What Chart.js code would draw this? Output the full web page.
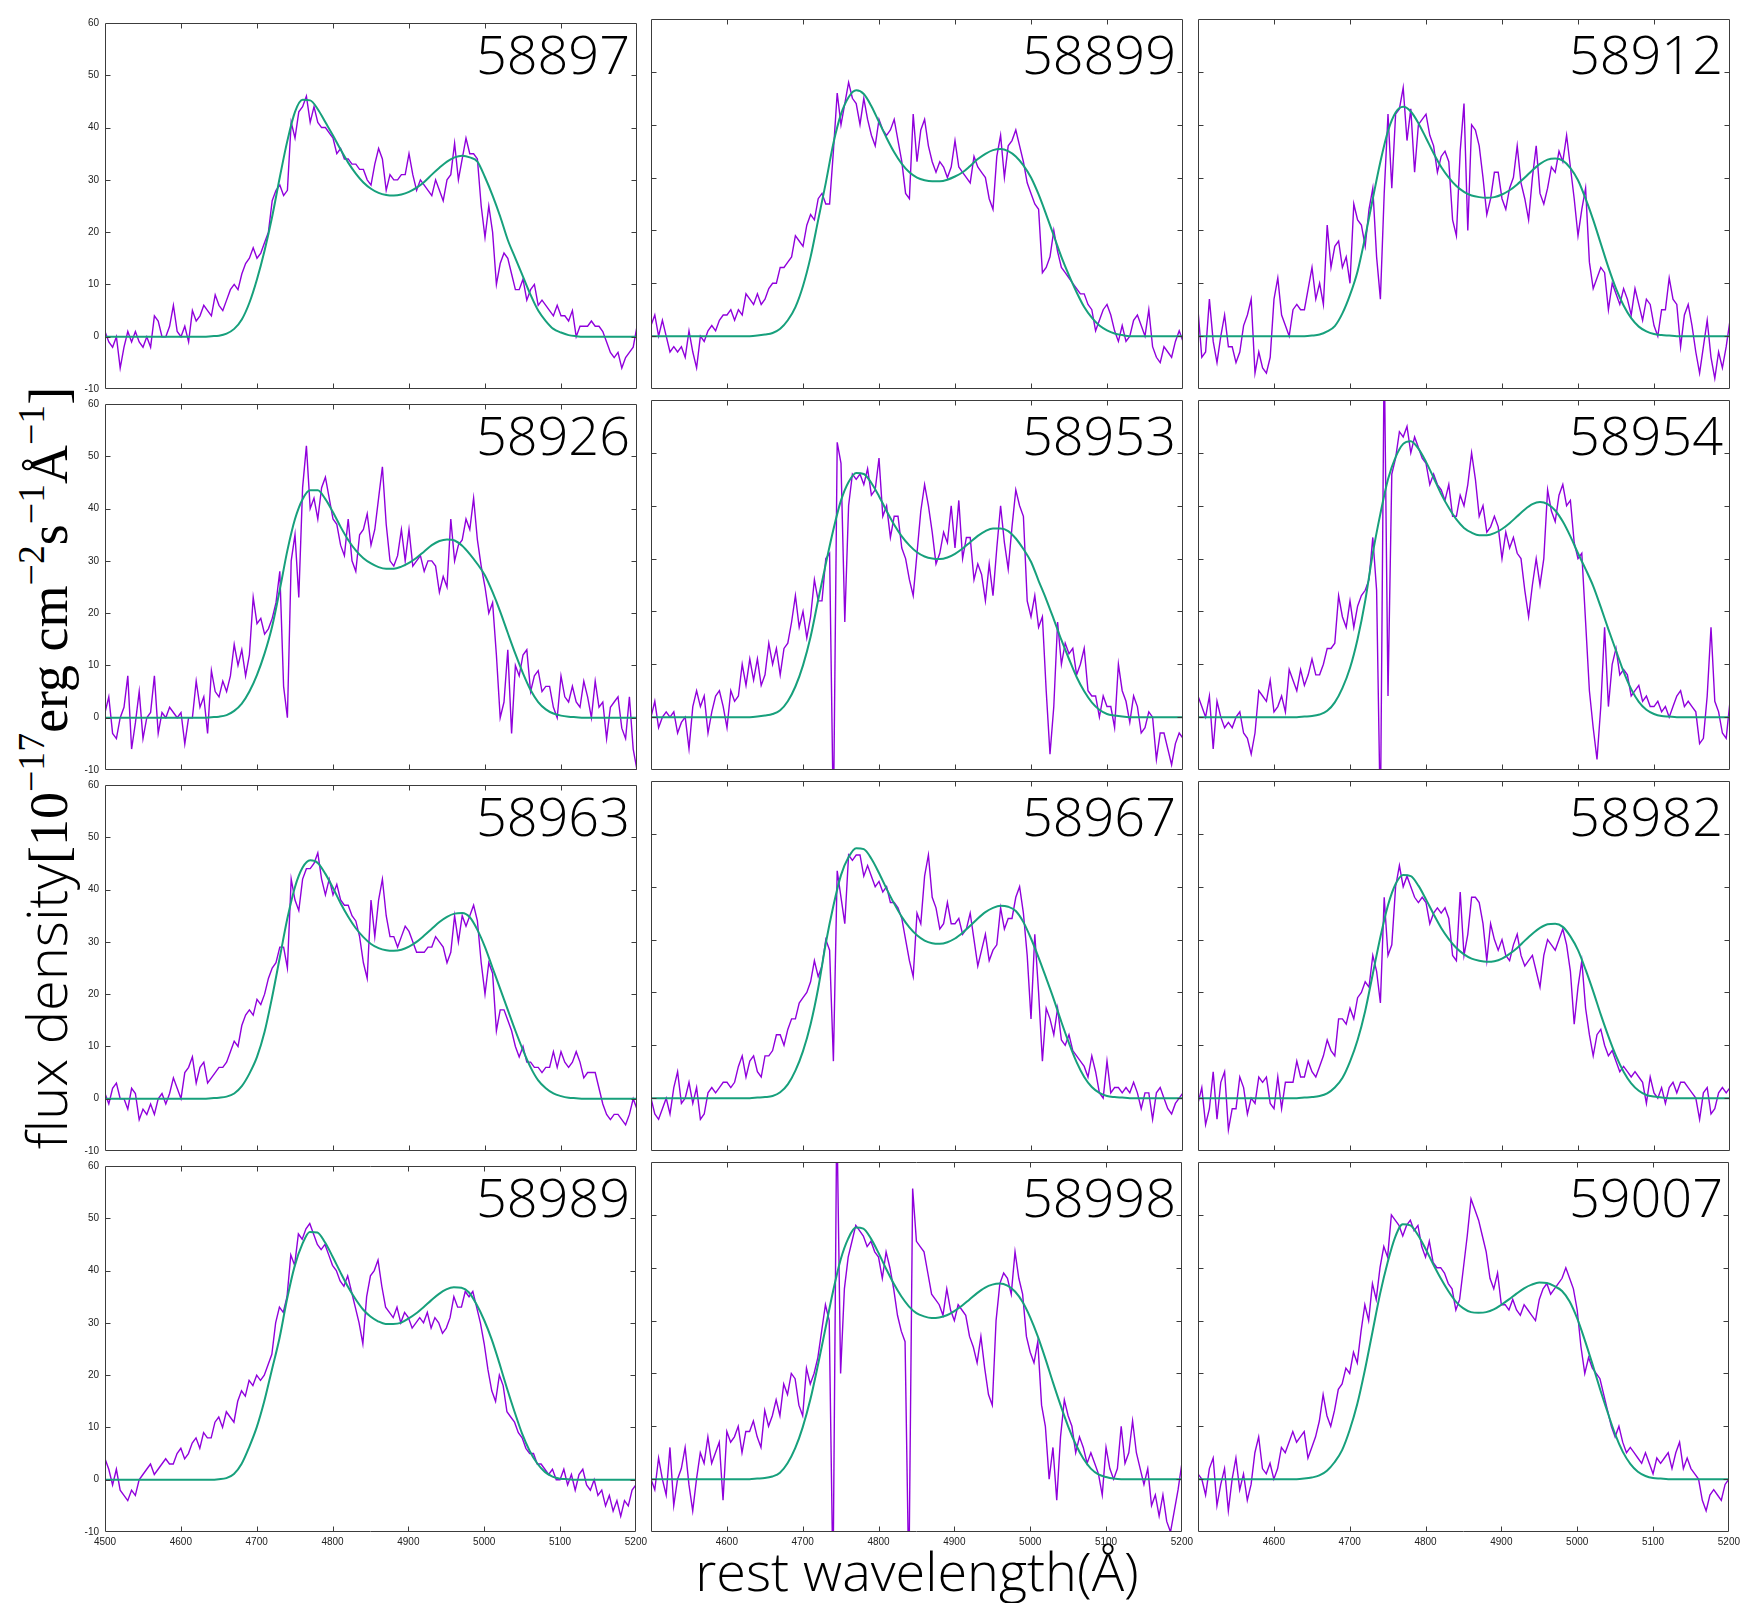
<!DOCTYPE html>
<html>
<head>
<meta charset="utf-8">
<title>Spettri H-beta</title>
<script src="https://cdn.jsdelivr.net/npm/chart.js"></script>
<style>
    body { margin: 0; background: #fff; }
    #page { position: relative; width: 1742px; height: 1603px; overflow: hidden; background: #fff; }
    canvas.panel { position: absolute; }
    .epoch {
        position: absolute; width: 300px; text-align: right;
        font-family: 'Open Sans', sans-serif; font-weight: 300; font-size: 54px; line-height: 54px; color: #000;
    }
    #xtitle {
        position: absolute; left: 517px; top: 1543px; width: 800px; text-align: center;
        font-family: 'Open Sans', sans-serif; font-weight: 300; font-size: 54px; line-height: 54px; color: #000;
    }
    #ytitle {
        position: absolute; left: -405px; top: 740px; width: 900px; height: 56px;
        text-align: center; white-space: nowrap; transform: rotate(-90deg); transform-origin: 50% 50%;
        font-family: 'Liberation Serif', serif; font-size: 54px; line-height: 56px; color: #000;
    }
    #ytitle .sans { font-family: 'Open Sans', sans-serif; font-weight: 300; font-size: 56px; }
    #ytitle sup { font-size: 0.7em; line-height: 0; vertical-align: 0; position: relative; top: -0.6em; }
</style>
</head>
<body>
<div id="page">
    <div id="ytitle"><span class="sans">flux density</span>[10<sup>−17</sup>erg cm<sup>−2</sup>s<sup>−1</sup>Å<sup>−1</sup>]</div>
    <div id="xtitle">rest wavelength(Å)</div>
</div>

<script>
    // lunghezze d'onda (Å) del campionamento dello spettro e del fit
    const wave = [
        4500, 4505, 4510, 4515, 4520, 4525, 4530, 4535, 4540, 4545, 4550, 4555, 4560, 4565, 4570, 4575, 4580, 4585, 4590, 4595,
        4600, 4605, 4610, 4615, 4620, 4625, 4630, 4635, 4640, 4645, 4650, 4655, 4660, 4665, 4670, 4675, 4680, 4685, 4690, 4695,
        4700, 4705, 4710, 4715, 4720, 4725, 4730, 4735, 4740, 4745, 4750, 4755, 4760, 4765, 4770, 4775, 4780, 4785, 4790, 4795,
        4800, 4805, 4810, 4815, 4820, 4825, 4830, 4835, 4840, 4845, 4850, 4855, 4860, 4865, 4870, 4875, 4880, 4885, 4890, 4895,
        4900, 4905, 4910, 4915, 4920, 4925, 4930, 4935, 4940, 4945, 4950, 4955, 4960, 4965, 4970, 4975, 4980, 4985, 4990, 4995,
        5000, 5005, 5010, 5015, 5020, 5025, 5030, 5035, 5040, 5045, 5050, 5055, 5060, 5065, 5070, 5075, 5080, 5085, 5090, 5095,
        5100, 5105, 5110, 5115, 5120, 5125, 5130, 5135, 5140, 5145, 5150, 5155, 5160, 5165, 5170, 5175, 5180, 5185, 5190, 5195,
        5200
    ];
    const fitWave = [
        4500, 4510, 4520, 4530, 4540, 4550, 4560, 4570, 4580, 4590,
        4600, 4610, 4620, 4630, 4640, 4650, 4660, 4670, 4680, 4690,
        4700, 4710, 4720, 4730, 4740, 4750, 4760, 4770, 4780, 4790,
        4800, 4810, 4820, 4830, 4840, 4850, 4860, 4870, 4880, 4890,
        4900, 4910, 4920, 4930, 4940, 4950, 4960, 4970, 4980, 4990,
        5000, 5010, 5020, 5030, 5040, 5050, 5060, 5070, 5080, 5090,
        5100, 5110, 5120, 5130, 5140, 5150, 5160, 5170, 5180, 5190,
        5200
    ];
    const epochs = ['58897', '58899', '58912', '58926', '58953', '58954',
                    '58963', '58967', '58982', '58989', '58998', '59007'];
    const xTicks = [4500, 4600, 4700, 4800, 4900, 5000, 5100, 5200];
    const yTicks = [-10, 0, 10, 20, 30, 40, 50, 60];

    // flusso osservato (10^-17 erg cm^-2 s^-1 A^-1)
    const flux58897 = [
        1, -1, -2, 0, -6, -2, 1, -1, 1, -1, -2, 0, -2, 4, 3, 0, 0, 2, 6, 1,
        0, 2, -1, 5, 3, 4, 6, 5, 4, 8, 6, 5, 7, 9, 10, 9, 12, 14, 15, 17,
        15, 16, 18, 20, 26, 28, 29, 27, 28, 41, 38, 43, 44, 46, 41, 44, 41, 40, 40, 39,
        38, 35, 36, 34, 34, 33, 33, 32, 32, 30, 29, 33, 36, 34, 28, 31, 30, 30, 31, 31,
        35, 31, 28, 30, 29, 28, 27, 30, 28, 26, 30, 31, 37, 30, 34, 38, 35, 35, 34, 25,
        19, 25, 20, 10, 14, 16, 15, 12, 9, 9, 11, 7, 9, 10, 6, 7, 6, 5, 4, 6,
        4, 4, 3, 5, 0, 2, 2, 2, 3, 2, 2, 1, -1, -3, -4, -3, -6, -4, -3, -2,
        2
    ];
    const flux58899 = [
        2, 4, 0, 3, 0, -3, -2, -3, -2, -4, 1, -3, -6, 0, -1, 1, 2, 1, 3, 4,
        4, 5, 3, 5, 4, 8, 7, 6, 8, 6, 7, 9, 10, 10, 13, 13, 14, 15, 19, 18,
        17, 21, 23, 22, 26, 27, 25, 25, 35, 46, 40, 44, 48, 45, 44, 40, 45, 41, 38, 36,
        41, 39, 38, 39, 41, 37, 33, 27, 26, 42, 33, 39, 41, 36, 33, 31, 33, 32, 30, 32,
        37, 32, 31, 30, 29, 34, 32, 31, 30, 26, 24, 34, 38, 30, 36, 37, 39, 36, 33, 29,
        27, 25, 24, 12, 13, 15, 20, 16, 13, 12, 11, 10, 9, 8, 8, 6, 5, 1, 3, 5,
        6, 4, 1, -1, 2, -1, 0, 3, 4, 2, 0, 5, -2, -4, -5, -2, -3, -4, -1, 1,
        -1
    ];
    const flux58912 = [
        5, -4, -3, 7, -1, -5, 0, 4, -2, -2, -5, -3, 2, 4, 7, -7, -3, -6, -7, -4,
        7, 11, 4, 2, 0, 5, 6, 5, 5, 9, 13, 7, 10, 6, 21, 13, 17, 18, 13, 15,
        10, 25, 22, 21, 17, 24, 28, 15, 7, 27, 42, 28, 42, 43, 47, 37, 43, 31, 40, 41,
        42, 38, 36, 31, 34, 35, 33, 22, 19, 35, 44, 20, 40, 39, 36, 30, 23, 26, 31, 31,
        26, 24, 28, 30, 36, 29, 26, 22, 30, 36, 27, 25, 28, 32, 31, 35, 33, 38, 32, 26,
        19, 24, 28, 14, 9, 11, 13, 12, 5, 10, 8, 6, 9, 7, 4, 9, 6, 3, 7, 6,
        2, 0, 5, 5, 11, 7, 6, -2, 4, 6, 2, -3, -7, -2, 3, -4, -8, -3, -6, -2,
        3
    ];
    const flux58926 = [
        1, 4, -3, -4, 0, 2, 8, -6, -1, 5, -4, 0, 1, 8, -3, 1, 0, 2, 1, 0,
        1, -5, 0, 0, 7, 2, 4, -3, 9, 5, 4, 7, 5, 8, 14, 10, 13, 8, 12, 23,
        18, 19, 16, 17, 19, 22, 28, 6, 0, 30, 35, 23, 44, 52, 40, 42, 38, 44, 46, 42,
        38, 37, 33, 31, 38, 30, 28, 35, 36, 39, 33, 36, 42, 48, 37, 30, 29, 31, 36, 30,
        36, 29, 30, 31, 28, 30, 30, 29, 24, 27, 25, 38, 30, 33, 34, 38, 36, 42, 34, 29,
        25, 20, 22, 12, 0, 3, 13, -3, 10, 8, 12, 13, 5, 8, 9, 5, 6, 6, 2, 0,
        8, 4, 3, 6, 3, 2, 7, 4, 0, 7, 2, 3, -4, 2, 3, 4, -2, -4, 4, -6,
        -10
    ];
    const flux58953 = [
        0, 3, -2, 0, 1, 0, 1, -3, -1, 0, -6, 2, 5, 2, 4, -3, 1, 4, 5, 2,
        -2, 5, 3, 4, 10, 6, 11, 7, 11, 6, 8, 14, 10, 13, 8, 13, 14, 18, 23, 17,
        20, 15, 19, 26, 22, 22, 30, 31, -20, 52, 48, 18, 40, 46, 45, 46, 44, 47, 42, 43,
        49, 38, 40, 34, 38, 38, 32, 30, 26, 23, 31, 39, 44, 40, 35, 29, 31, 35, 33, 40,
        32, 41, 30, 34, 34, 26, 29, 27, 22, 29, 23, 32, 40, 33, 28, 36, 43, 40, 38, 22,
        19, 23, 17, 19, 5, -7, 2, 18, 10, 14, 12, 13, 8, 10, 13, 5, 4, 4, 0, 4,
        2, 2, -2, 10, 5, 3, -1, 4, 2, -3, -2, 1, 0, -8, -3, -3, -6, -9, -5, -3,
        -4
    ];
    const flux58954 = [
        4, 2, 0, 4, -6, 3, 0, -2, -1, -2, 0, 1, -3, -4, -7, -3, 5, 4, 3, 7,
        1, 2, 4, 1, 9, 7, 5, 9, 6, 8, 11, 8, 8, 10, 13, 13, 14, 23, 19, 17,
        22, 17, 21, 23, 24, 26, 34, 24, -20, 70, 4, 46, 49, 54, 53, 55, 50, 53, 51, 49,
        48, 44, 46, 44, 43, 41, 44, 38, 38, 42, 40, 44, 50, 45, 38, 40, 35, 36, 38, 36,
        30, 35, 32, 34, 31, 30, 24, 19, 25, 30, 25, 30, 43, 39, 37, 42, 44, 40, 41, 33,
        30, 31, 18, 5, -2, -8, 2, 17, 2, 10, 13, 8, 9, 8, 4, 5, 6, 3, 4, 2,
        2, 3, 1, 2, 0, 2, 4, 5, 2, 3, 2, 1, -5, -4, 4, 17, 3, 1, -3, -4,
        3
    ];
    const flux58963 = [
        1, -1, 2, 3, 0, 0, -2, 2, 1, -4, -2, -3, -1, -3, 0, 1, -1, 1, 4, 2,
        0, 5, 6, 8, 3, 6, 7, 3, 4, 5, 6, 6, 7, 9, 11, 10, 14, 16, 17, 16,
        19, 18, 20, 23, 25, 26, 29, 29, 25, 42, 38, 36, 42, 44, 44, 45, 47, 42, 39, 42,
        39, 41, 38, 37, 37, 35, 34, 31, 26, 23, 38, 31, 38, 42, 35, 31, 31, 29, 31, 33,
        32, 30, 28, 28, 28, 29, 29, 31, 30, 29, 26, 28, 35, 30, 35, 33, 35, 37, 34, 26,
        20, 26, 24, 13, 17, 17, 15, 13, 10, 8, 10, 7, 7, 6, 6, 5, 6, 6, 9, 6,
        9, 7, 6, 7, 9, 7, 4, 5, 5, 5, 2, -1, -3, -4, -3, -3, -4, -5, -3, 0,
        -2
    ];
    const flux58967 = [
        0, -3, -4, -2, 0, -3, 2, 5, -1, 0, 3, -1, 2, -4, -3, 1, 2, 1, 2, 3,
        3, 2, 3, 6, 8, 4, 7, 8, 5, 4, 8, 8, 9, 12, 12, 10, 13, 15, 15, 18,
        19, 20, 22, 26, 23, 25, 30, 28, 7, 43, 38, 33, 46, 45, 46, 46, 42, 44, 42, 40,
        41, 39, 40, 37, 37, 36, 34, 30, 26, 23, 35, 33, 42, 46, 38, 36, 32, 33, 37, 33,
        33, 34, 31, 32, 35, 30, 25, 28, 31, 26, 28, 29, 36, 32, 34, 34, 38, 40, 35, 27,
        15, 31, 20, 7, 17, 15, 12, 17, 11, 10, 12, 9, 8, 7, 6, 4, 8, 5, 1, 0,
        7, 1, 2, 2, 1, 2, 1, 3, 1, -2, 1, 1, -4, 1, 2, 0, -2, -3, -1, 0,
        1
    ];
    const flux58982 = [
        -1, 2, -5, -2, 5, -4, 3, 5, -6, -2, -2, 4, 2, -3, 0, -1, 4, 3, 4, -1,
        -2, 4, -2, 3, 3, 3, 7, 4, 4, 7, 5, 4, 6, 8, 11, 9, 8, 15, 15, 14,
        17, 15, 19, 20, 22, 21, 27, 24, 18, 38, 27, 29, 40, 44, 40, 42, 40, 38, 37, 38,
        37, 33, 35, 36, 35, 36, 34, 27, 26, 39, 27, 31, 38, 38, 37, 33, 26, 33, 30, 28,
        30, 27, 26, 29, 31, 27, 25, 26, 27, 24, 21, 27, 30, 29, 28, 30, 32, 29, 24, 14,
        21, 26, 17, 12, 8, 12, 13, 10, 8, 9, 7, 5, 6, 5, 4, 5, 4, 3, -1, 4,
        1, 0, 2, -1, 2, 3, 1, 3, 3, 2, 1, 0, -4, 1, 2, -3, -2, 1, 2, 1,
        2
    ];
    const flux58989 = [
        4, 2, -1, 2, -2, -3, -4, -2, -3, 0, 1, 2, 3, 1, 2, 3, 4, 3, 3, 5,
        6, 4, 5, 7, 8, 6, 9, 8, 8, 11, 12, 10, 13, 12, 11, 15, 17, 16, 19, 18,
        20, 19, 20, 22, 24, 30, 33, 32, 35, 43, 41, 47, 46, 48, 49, 47, 45, 44, 45, 43,
        41, 40, 38, 37, 39, 36, 33, 30, 26, 35, 39, 40, 42, 37, 33, 32, 31, 33, 30, 32,
        31, 29, 30, 31, 30, 32, 29, 31, 30, 28, 29, 31, 35, 33, 33, 36, 35, 36, 33, 30,
        26, 21, 17, 15, 20, 18, 13, 12, 11, 9, 8, 6, 5, 5, 3, 3, 2, 1, 2, 0,
        0, 2, -1, 1, -2, 1, 2, -1, -2, 0, -3, -2, -5, -3, -6, -4, -7, -4, -5, -2,
        -1
    ];
    const flux58998 = [
        0, -2, 4, 0, -3, 6, -5, 0, 2, 6, -1, -6, 0, 5, 3, 8, 3, 5, 7, -4,
        9, 7, 8, 10, 5, 9, 9, 11, 8, 6, 13, 10, 12, 15, 12, 18, 16, 20, 19, 14,
        12, 21, 18, 20, 23, 28, 33, 30, -20, 70, 20, 36, 42, 45, 48, 47, 46, 44, 45, 43,
        42, 38, 43, 40, 36, 31, 28, 26, -20, 55, 45, 44, 43, 39, 35, 34, 33, 31, 36, 32,
        30, 33, 32, 31, 27, 25, 22, 27, 21, 16, 14, 30, 37, 39, 38, 35, 43, 38, 35, 27,
        24, 22, 26, 14, 10, 0, 6, -4, 8, 15, 12, 10, 5, 8, 6, 3, 5, 3, 1, -3,
        6, 2, 0, 2, 10, 3, 5, 11, 5, 2, -1, 2, -5, -3, -7, -3, -8, -10, -6, -2,
        3
    ];
    const flux59007 = [
        1, 0, -3, 2, 4, -5, -1, 2, -6, 0, 4, -2, 1, -4, -1, 5, 8, 2, 1, 3,
        0, 2, 6, 5, 7, 9, 7, 8, 9, 4, 6, 8, 11, 16, 12, 10, 13, 17, 18, 21,
        20, 24, 22, 28, 33, 30, 37, 34, 40, 44, 42, 50, 49, 48, 46, 48, 49, 47, 48, 44,
        42, 45, 41, 40, 40, 39, 37, 36, 32, 34, 40, 46, 53, 51, 49, 46, 43, 38, 36, 39,
        33, 33, 32, 34, 32, 31, 33, 32, 31, 30, 34, 36, 37, 35, 36, 37, 38, 40, 38, 36,
        32, 25, 20, 23, 21, 20, 19, 16, 13, 10, 8, 10, 7, 5, 6, 5, 4, 3, 5, 3,
        1, 4, 3, 4, 5, 2, 5, 7, 2, 4, 2, 1, 0, -4, -6, -3, -2, -3, -4, -1,
        0
    ];

    // modello (fit a due picchi), passo 10 A
    const fit58897 = [
        0, 0, 0, 0, 0, 0, 0, 0, 0, 0, 0, 0, 0, 0, 0.1, 0.2, 0.6, 1.5, 3.3, 6.5,
        11, 16.5, 23, 30.5, 37.5, 43, 45.3, 45.2, 43.5, 41, 38.5, 35.8, 33.3, 31.2, 29.5, 28.3, 27.5, 27.1, 27, 27.2,
        27.7, 28.5, 29.6, 31, 32.3, 33.5, 34.3, 34.6, 34.3, 33.5, 30.5, 27, 23, 18.5, 15, 11.5, 8, 5, 3, 1.5,
        0.8, 0.3, 0.1, 0, 0, 0, 0, 0, 0, 0, 0
    ];
    const fit58899 = [
        0, 0, 0, 0, 0, 0, 0, 0, 0, 0, 0, 0, 0, 0, 0.1, 0.3, 0.6, 1.4, 3, 5.5,
        9.5, 15, 22, 29, 36.5, 42, 45.2, 46.5, 45.8, 43.5, 40.5, 37.5, 34.8, 32.6, 31, 30, 29.5, 29.3, 29.3, 29.6,
        30.2, 31, 32.2, 33.5, 34.5, 35.2, 35.4, 35, 34, 32.3, 30, 26.8, 23, 19, 15, 11.5, 8.3, 5.5, 3.5, 2,
        1.1, 0.5, 0.2, 0, 0, 0, 0, 0, 0, 0, 0
    ];
    const fit58912 = [
        0, 0, 0, 0, 0, 0, 0, 0, 0, 0, 0, 0, 0, 0, 0, 0.1, 0.3, 0.9, 1.9, 4.3,
        7.8, 12.3, 18.8, 26, 33, 38.8, 42.3, 43.4, 42.5, 40.3, 37.5, 34.6, 32, 30, 28.4, 27.3, 26.6, 26.3, 26.2, 26.3,
        26.8, 27.6, 28.7, 30, 31.4, 32.6, 33.4, 33.6, 33.2, 31.8, 29.5, 26, 22, 17.5, 13, 9, 5.8, 3.4, 1.8, 0.9,
        0.4, 0.2, 0.1, 0, 0, 0, 0, 0, 0, 0, 0
    ];
    const fit58926 = [
        0, 0, 0, 0, 0, 0, 0, 0, 0, 0, 0, 0, 0, 0, 0.1, 0.2, 0.5, 1.3, 2.7, 5,
        8.2, 12.3, 17.5, 24.5, 32, 38, 41.8, 43.5, 43.5, 41.8, 39.3, 36.5, 34, 32, 30.5, 29.5, 28.8, 28.5, 28.5, 28.9,
        29.6, 30.6, 31.8, 33, 33.8, 34.1, 33.9, 32.9, 31.3, 29.4, 27.2, 24, 20.3, 16.2, 12.2, 8.5, 5.3, 3, 1.6, 0.8,
        0.4, 0.2, 0.1, 0, 0, 0, 0, 0, 0, 0, 0
    ];
    const fit58953 = [
        0, 0, 0, 0, 0, 0, 0, 0, 0, 0, 0, 0, 0, 0, 0.1, 0.3, 0.6, 1.3, 3, 5.8,
        9.8, 15.2, 22.2, 29, 35.5, 41, 44.5, 46.2, 46, 44.3, 41.8, 39, 36.4, 34.2, 32.5, 31.2, 30.4, 30, 29.9, 30.2,
        30.9, 31.9, 33.1, 34.3, 35.2, 35.7, 35.7, 35.2, 33.8, 31.8, 29.4, 25.8, 22.3, 18.5, 14.6, 11, 7.6, 4.9, 2.8, 1.4,
        0.6, 0.3, 0.1, 0, 0, 0, 0, 0, 0, 0, 0
    ];
    const fit58954 = [
        0, 0, 0, 0, 0, 0, 0, 0, 0, 0, 0, 0, 0, 0, 0.1, 0.2, 0.5, 1.2, 2.8, 5.5,
        9.3, 14.8, 22, 31, 38.5, 45, 49.2, 51.7, 52.2, 50.8, 48.3, 45.3, 42.2, 39.6, 37.4, 35.8, 34.9, 34.4, 34.4, 34.8,
        35.6, 36.7, 38, 39.3, 40.3, 40.7, 40.3, 39.1, 37, 34.2, 31, 28, 24.8, 20.8, 16.6, 12.6, 8.6, 5.3, 2.9, 1.4,
        0.6, 0.2, 0.1, 0, 0, 0, 0, 0, 0, 0, 0
    ];
    const fit58963 = [
        0, 0, 0, 0, 0, 0, 0, 0, 0, 0, 0, 0, 0, 0, 0.1, 0.2, 0.4, 1, 2.4, 4.8,
        8, 12.8, 19.5, 27, 34.5, 40.5, 44.2, 45.6, 45.1, 43, 40.3, 37.4, 34.8, 32.6, 30.9, 29.6, 28.8, 28.4, 28.3, 28.5,
        29.1, 30, 31.2, 32.5, 33.8, 34.8, 35.4, 35.5, 34.7, 32.3, 29, 25, 21, 17, 13, 9.3, 6, 3.5, 2, 1,
        0.5, 0.2, 0.1, 0, 0, 0, 0, 0, 0, 0, 0
    ];
    const fit58967 = [
        0, 0, 0, 0, 0, 0, 0, 0, 0, 0, 0, 0, 0, 0, 0.1, 0.2, 0.4, 1.1, 2.6, 5.2,
        8.9, 14, 20.8, 29.3, 36.4, 42.2, 45.6, 47.3, 47.1, 45.3, 42.6, 39.6, 36.8, 34.3, 32.3, 30.8, 29.8, 29.3, 29.2, 29.5,
        30.2, 31.3, 32.6, 34, 35.2, 36, 36.4, 36.2, 35.4, 33.3, 30.2, 26.6, 22.7, 18.7, 14.4, 10.4, 6.8, 4, 2.1, 1,
        0.4, 0.2, 0.1, 0, 0, 0, 0, 0, 0, 0, 0
    ];
    const fit58982 = [
        0, 0, 0, 0, 0, 0, 0, 0, 0, 0, 0, 0, 0, 0, 0.1, 0.2, 0.4, 0.9, 2, 3.8,
        6.9, 11, 16.5, 23.5, 30.5, 36.5, 40.5, 42.2, 42, 40.2, 37.6, 34.8, 32.2, 30.1, 28.4, 27.2, 26.4, 26, 25.8, 25.9,
        26.4, 27.3, 28.4, 29.8, 31.1, 32.2, 32.9, 33, 32.4, 30.6, 28, 24.3, 20.2, 15.8, 11.7, 8, 5, 2.8, 1.4, 0.6,
        0.3, 0.1, 0, 0, 0, 0, 0, 0, 0, 0, 0
    ];
    const fit58989 = [
        0, 0, 0, 0, 0, 0, 0, 0, 0, 0, 0, 0, 0, 0, 0, 0.1, 0.3, 1.1, 3, 6.2,
        10, 15, 21, 27, 34.5, 40.8, 45, 47.4, 47.3, 45.4, 42.7, 39.8, 37, 34.6, 32.6, 31.2, 30.3, 29.8, 29.8, 30,
        30.8, 31.8, 33, 34.3, 35.5, 36.4, 36.8, 36.7, 35.8, 33.5, 30.5, 26.8, 22.3, 17.5, 13, 8.8, 5.5, 3.1, 1.5, 0.6,
        0.2, 0.1, 0, 0, 0, 0, 0, 0, 0, 0, 0
    ];
    const fit58998 = [
        0, 0, 0, 0, 0, 0, 0, 0, 0, 0, 0, 0, 0, 0, 0.1, 0.2, 0.5, 1.2, 3, 5.8,
        9.8, 15, 21.5, 28.5, 35.5, 41.5, 45.5, 47.6, 47.4, 45.5, 42.8, 39.8, 37, 34.6, 32.7, 31.4, 30.8, 30.5, 30.6, 31,
        31.8, 32.8, 34, 35.2, 36.2, 36.8, 37, 36.6, 35.5, 33.5, 30.6, 27, 22.8, 18.3, 14, 10, 6.6, 3.9, 2, 0.9,
        0.4, 0.1, 0, 0, 0, 0, 0, 0, 0, 0, 0
    ];
    const fit59007 = [
        0, 0, 0, 0, 0, 0, 0, 0, 0, 0, 0, 0, 0, 0, 0.1, 0.3, 0.7, 1.6, 3.2, 5.5,
        9.3, 14.2, 20.6, 27.8, 35, 41, 45.8, 48.2, 48, 46.2, 43.6, 40.7, 38, 35.6, 33.6, 32.3, 31.6, 31.5, 31.6, 32.1,
        33, 34, 35.1, 36.1, 36.8, 37.2, 37.1, 36.5, 35.6, 33.6, 30.4, 26.3, 21.8, 17.1, 12.7, 8.5, 5.2, 2.9, 1.4, 0.6,
        0.2, 0.1, 0, 0, 0, 0, 0, 0, 0, 0, 0
    ];

    const fluxes = [flux58897, flux58899, flux58912, flux58926, flux58953, flux58954,
                    flux58963, flux58967, flux58982, flux58989, flux58998, flux59007];
    const fits = [fit58897, fit58899, fit58912, fit58926, fit58953, fit58954,
                  fit58963, fit58967, fit58982, fit58989, fit58998, fit59007];

    // geometria dei pannelli (pixel della pagina)
    const colLeft = [105, 651, 1198];
    const rowTop = [19, 400, 781, 1162];
    const plotW = 532, plotH = 370;
    const padL = 45, padT = 8, padR = 14, padB = 25;

    Chart.defaults.font.family = "'Liberation Sans', Arial, sans-serif";
    Chart.defaults.font.size = 10;
    Chart.defaults.color = '#222';

    // cornice con tacche verso l'interno su tutti e quattro i lati
    const frameTicks = {
        id: 'frameTicks',
        afterDatasetsDraw(chart) {
            const { ctx, chartArea: a, scales } = chart;
            const L = Math.round(a.left) + 0.5, R = Math.round(a.right) - 0.5;
            const T = Math.round(a.top) + 0.5, B = Math.round(a.bottom) - 0.5;
            ctx.save();
            ctx.strokeStyle = '#3c3c3c';
            ctx.lineWidth = 1;
            ctx.beginPath();
            ctx.rect(L, T, R - L, B - T);
            xTicks.forEach(v => {
                const px = Math.round(scales.x.getPixelForValue(v)) + 0.5;
                if (px <= L + 1 || px >= R - 1) return;
                ctx.moveTo(px, B); ctx.lineTo(px, B - 5);
                ctx.moveTo(px, T); ctx.lineTo(px, T + 5);
            });
            yTicks.forEach(v => {
                const py = Math.round(scales.y.getPixelForValue(v)) + 0.5;
                if (py <= T + 1 || py >= B - 1) return;
                ctx.moveTo(L, py); ctx.lineTo(L + 5, py);
                ctx.moveTo(R, py); ctx.lineTo(R - 5, py);
            });
            ctx.stroke();
            ctx.restore();
        }
    };

    const page = document.getElementById('page');

    epochs.forEach((ep, k) => {
        const row = Math.floor(k / 3), col = k % 3;
        const canvas = document.createElement('canvas');
        canvas.className = 'panel';
        canvas.width = plotW + padL + padR;
        canvas.height = plotH + padT + padB;
        canvas.style.width = canvas.width + 'px';
        canvas.style.height = canvas.height + 'px';
        canvas.style.left = (colLeft[col] - padL) + 'px';
        canvas.style.top = (rowTop[row] - padT) + 'px';
        page.appendChild(canvas);

        const label = document.createElement('div');
        label.className = 'epoch';
        label.textContent = ep;
        label.style.left = (colLeft[col] + plotW - 7 - 300) + 'px';
        label.style.top = (rowTop[row] + 7) + 'px';
        page.appendChild(label);

        new Chart(canvas, {
            type: 'line',
            data: {
                datasets: [
                    {
                        label: 'fit',
                        data: fitWave.map((w, i) => ({ x: w, y: fits[k][i] })),
                        borderColor: '#17a07c',
                        borderWidth: 2,
                        pointRadius: 0,
                        cubicInterpolationMode: 'monotone',
                        fill: false
                    },
                    {
                        label: ep,
                        data: wave.map((w, i) => ({ x: w, y: fluxes[k][i] })),
                        borderColor: '#9000dc',
                        borderWidth: 1.4,
                        pointRadius: 0,
                        tension: 0,
                        fill: false
                    }
                ]
            },
            options: {
                responsive: false,
                animation: false,
                devicePixelRatio: 1,
                events: [],
                layout: { padding: { top: padT, right: padR, left: 0, bottom: 0 } },
                plugins: { legend: { display: false }, tooltip: { enabled: false } },
                scales: {
                    x: {
                        type: 'linear', min: 4500, max: 5200,
                        grid: { display: false, drawTicks: false },
                        border: { display: false },
                        ticks: {
                            display: row === 3, stepSize: 100, autoSkip: false, maxRotation: 0, padding: 4,
                            callback: v => (col > 0 && v === 4500) ? '' : String(v)
                        },
                        afterFit: s => { s.height = padB; }
                    },
                    y: {
                        type: 'linear', min: -10, max: 60,
                        grid: { display: false, drawTicks: false },
                        border: { display: false },
                        ticks: { display: col === 0, stepSize: 10, padding: 6, callback: v => String(v) },
                        afterFit: s => { s.width = padL; }
                    }
                }
            },
            plugins: [frameTicks]
        });
    });
</script>
</body>
</html>
